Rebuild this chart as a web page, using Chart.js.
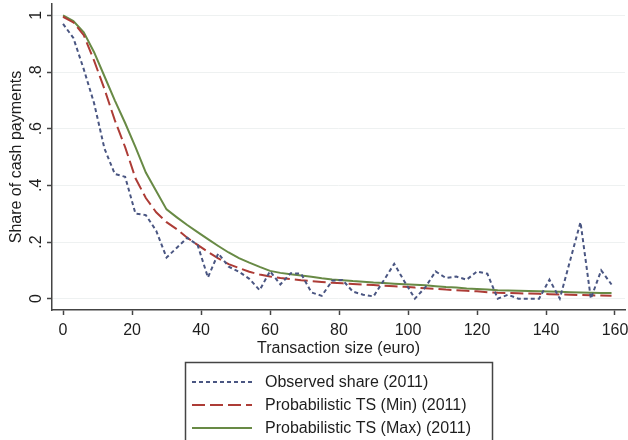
<!DOCTYPE html>
<html>
<head>
<meta charset="utf-8">
<script src="https://cdn.jsdelivr.net/npm/chart.js@4"></script>
<style>
  html, body { margin: 0; padding: 0; background: #fff; }
  canvas { display: block; }
</style>
</head>
<body>
<canvas id="cashChart" width="628" height="440"></canvas>
<script>
// transaction size (euro), one point every 3 euro
const sizes = [0, 3, 6, 9, 12, 15, 18, 21, 24, 27, 30, 33, 36, 39, 42, 45, 48, 51,
  54, 57, 60, 63, 66, 69, 72, 75, 78, 81, 84, 87, 90, 93, 96, 99, 102, 105, 108,
  111, 114, 117, 120, 123, 126, 129, 132, 135, 138, 141, 144, 147, 150, 153, 156, 159];

const observed = [0.97, 0.92, 0.81, 0.69, 0.53, 0.44, 0.43, 0.30, 0.295, 0.24, 0.145,
  0.18, 0.215, 0.19, 0.075, 0.16, 0.113, 0.095, 0.07, 0.03, 0.097, 0.05, 0.09, 0.088,
  0.022, 0.01, 0.063, 0.066, 0.025, 0.014, 0.008, 0.065, 0.123, 0.06, 0.0, 0.04,
  0.096, 0.073, 0.078, 0.067, 0.096, 0.088, 0.0, 0.014, 0.0, 0.0, 0.0, 0.067, 0.0,
  0.135, 0.27, 0.0, 0.10, 0.05];

const tsMin = [0.995, 0.975, 0.93, 0.84, 0.74, 0.63, 0.535, 0.425, 0.355, 0.305, 0.27,
  0.245, 0.215, 0.19, 0.165, 0.142, 0.122, 0.108, 0.095, 0.085, 0.078, 0.073, 0.069,
  0.065, 0.062, 0.059, 0.056, 0.054, 0.052, 0.05, 0.048, 0.046, 0.044, 0.042, 0.039,
  0.037, 0.035, 0.032, 0.03, 0.028, 0.026, 0.023, 0.021, 0.02, 0.019, 0.018, 0.017,
  0.016, 0.015, 0.014, 0.013, 0.012, 0.011, 0.01];

const tsMax = [1.0, 0.98, 0.94, 0.87, 0.785, 0.70, 0.62, 0.535, 0.445, 0.38, 0.315,
  0.287, 0.26, 0.235, 0.21, 0.186, 0.163, 0.143, 0.127, 0.112, 0.098, 0.091, 0.086,
  0.082, 0.077, 0.072, 0.068, 0.065, 0.062, 0.06, 0.057, 0.055, 0.053, 0.051, 0.049,
  0.047, 0.044, 0.041, 0.039, 0.036, 0.034, 0.032, 0.03, 0.029, 0.028, 0.027, 0.026,
  0.025, 0.024, 0.023, 0.022, 0.021, 0.02, 0.02];

const seriesNames = ["Observed share (2011)", "Probabilistic TS (Min) (2011)", "Probabilistic TS (Max) (2011)"];

const xTicks = [0, 20, 40, 60, 80, 100, 120, 140, 160];
const yTicks = [0, 0.2, 0.4, 0.6, 0.8, 1];
const yTickLabels = ["0", ".2", ".4", ".6", ".8", "1"];

const FONT = "'Liberation Sans', Arial, sans-serif";
const INK = "#1e1e1e";
const AXIS = "#444";

function toPoints(ys) {
  return sizes.map((x, i) => ({ x: x, y: ys[i] }));
}

// Stata-style vertical tick labels on the y axis
const rotatedYLabels = {
  id: "rotatedYLabels",
  afterDraw(chart) {
    const { ctx } = chart;
    const y = chart.scales.y;
    ctx.save();
    ctx.font = "16px " + FONT;
    ctx.fillStyle = INK;
    ctx.textAlign = "center";
    ctx.textBaseline = "middle";
    yTicks.forEach((v, i) => {
      ctx.save();
      ctx.translate(37, y.getPixelForValue(v));
      ctx.rotate(-Math.PI / 2);
      ctx.fillText(yTickLabels[i], 0, 0);
      ctx.restore();
    });
    ctx.restore();
  },
};

// boxed legend stacked under the axis title
const boxedLegend = {
  id: "boxedLegend",
  afterDraw(chart) {
    const { ctx } = chart;
    ctx.save();
    ctx.strokeStyle = AXIS;
    ctx.lineWidth = 1.5;
    ctx.strokeRect(185.5, 362.5, 307, 90);
    ctx.font = "16px " + FONT;
    ctx.fillStyle = INK;
    ctx.textAlign = "left";
    ctx.textBaseline = "middle";
    chart.data.datasets.forEach((ds, i) => {
      const rowY = 382 + i * 23;
      ctx.save();
      ctx.strokeStyle = ds.borderColor;
      ctx.lineWidth = 2;
      ctx.setLineDash(ds.borderDash || []);
      ctx.beginPath();
      ctx.moveTo(192, rowY);
      ctx.lineTo(252, rowY);
      ctx.stroke();
      ctx.restore();
      ctx.fillText(ds.label, 265, rowY + 1);
    });
    ctx.restore();
  },
};

new Chart(document.getElementById("cashChart"), {
  type: "line",
  data: {
    datasets: [
      {
        label: seriesNames[0],
        data: toPoints(observed),
        borderColor: "#4a5682",
        borderWidth: 2,
        borderDash: [4, 3],
      },
      {
        label: seriesNames[1],
        data: toPoints(tsMin),
        borderColor: "#ad3c36",
        borderWidth: 2,
        borderDash: [13, 5],
      },
      {
        label: seriesNames[2],
        data: toPoints(tsMax),
        borderColor: "#688a45",
        borderWidth: 2,
      },
    ],
  },
  options: {
    responsive: false,
    animation: false,
    events: [],
    elements: { point: { radius: 0 }, line: { tension: 0 } },
    layout: { padding: { left: 0, right: 3, top: 4, bottom: 78 } },
    plugins: { legend: { display: false }, tooltip: { enabled: false } },
    scales: {
      x: {
        type: "linear",
        min: -3.2,
        max: 162.9,
        afterBuildTicks: (s) => { s.ticks = xTicks.map((v) => ({ value: v })); },
        afterFit: (s) => { s.height = 52; s.paddingLeft = 0; s.paddingRight = 0; },
        grid: { drawOnChartArea: false, tickLength: 5, tickColor: AXIS, tickWidth: 1.5 },
        border: { color: AXIS, width: 1.5 },
        ticks: { padding: 6, color: INK, font: { family: FONT, size: 16 }, maxRotation: 0 },
        title: {
          display: true,
          text: "Transaction size (euro)",
          color: INK,
          font: { family: FONT, size: 16 },
          padding: { top: 0, bottom: 4 },
        },
      },
      y: {
        min: -0.04,
        max: 1.04,
        afterBuildTicks: (s) => { s.ticks = yTicks.map((v) => ({ value: v })); },
        afterFit: (s) => { s.width = 52; s.paddingTop = 0; s.paddingBottom = 0; },
        grid: { color: "#eef1f1", lineWidth: 1, tickLength: 5, tickColor: AXIS, tickWidth: 1.5 },
        border: { color: AXIS, width: 1.5 },
        ticks: { callback: () => "" },
        title: {
          display: true,
          text: "Share of cash payments",
          color: INK,
          font: { family: FONT, size: 16 },
          padding: { top: 7, bottom: 0 },
        },
      },
    },
  },
  plugins: [rotatedYLabels, boxedLegend],
});
</script>
</body>
</html>
